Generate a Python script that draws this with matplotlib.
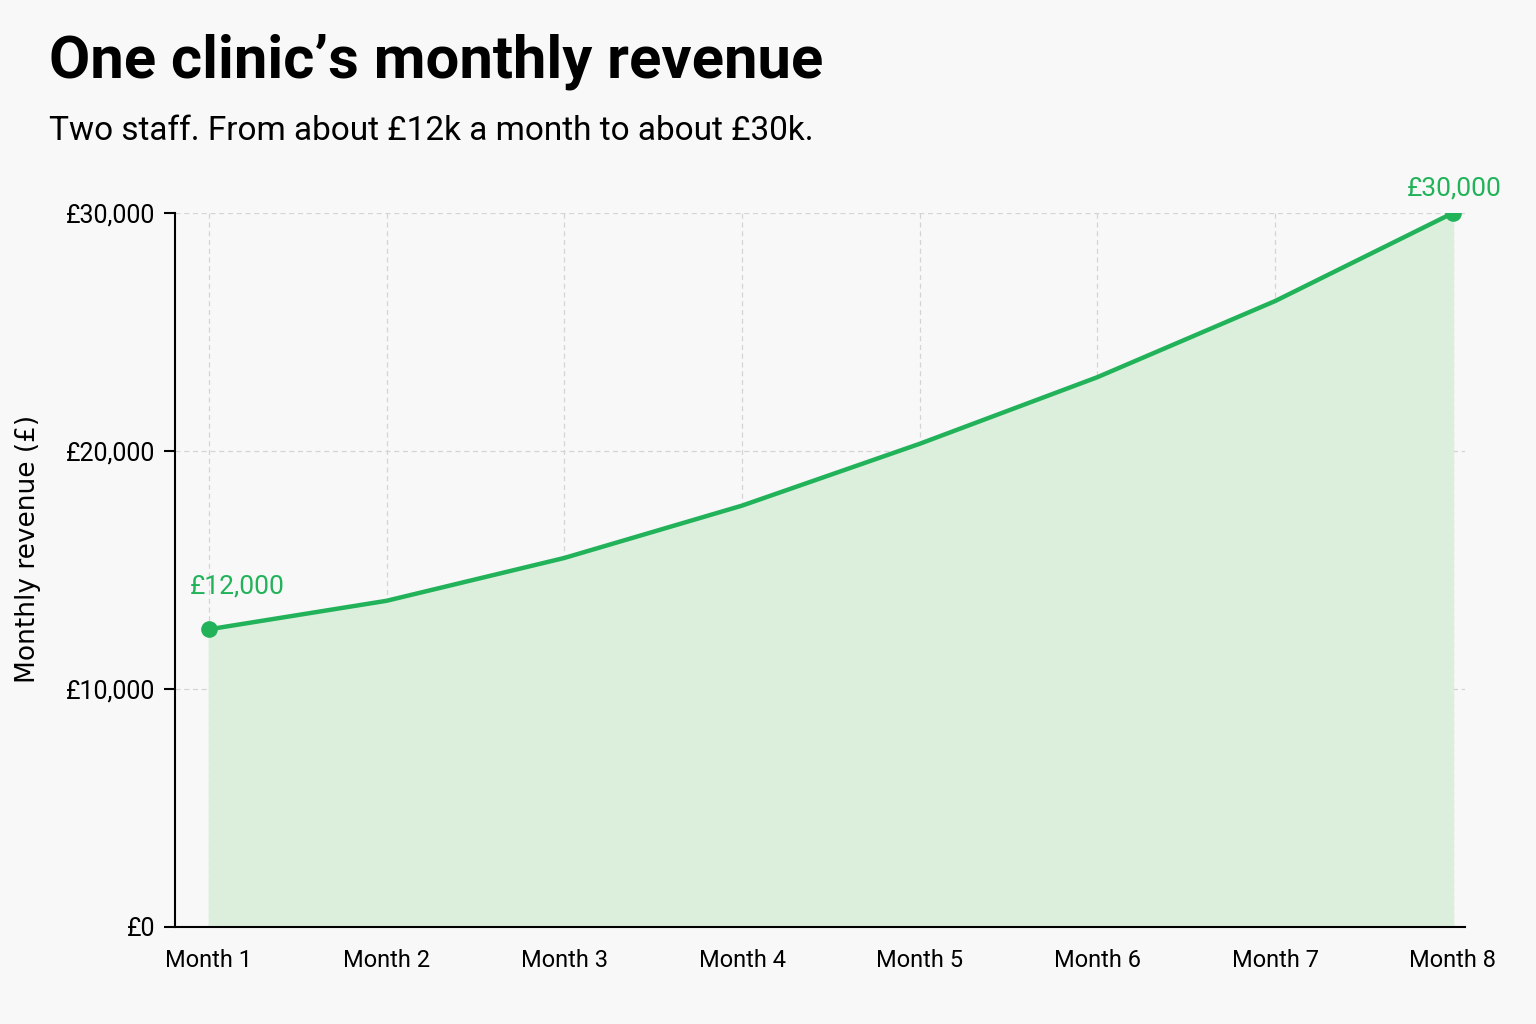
import matplotlib
matplotlib.use("Agg")
import matplotlib.pyplot as plt
from matplotlib.ticker import FuncFormatter
from matplotlib import font_manager

months = ["Month 1", "Month 2", "Month 3", "Month 4", "Month 5", "Month 6", "Month 7", "Month 8"]
revenue = [12500, 13700, 15500, 17700, 20300, 23100, 26300, 30000]
first_label = "£12,000"
last_label = "£30,000"
y_ticks = [0, 10000, 20000, 30000]

names = {f.name for f in font_manager.fontManager.ttflist}
narrow = "Liberation Sans Narrow" if "Liberation Sans Narrow" in names else "Roboto"

green = "#22b35a"
fill_green = "#dcefdc"
bg = "#f8f8f8"

fig = plt.figure(figsize=(15.36, 10.24), dpi=100, facecolor=bg)
ax = fig.add_axes([0.114, 0.095, 0.840, 0.697])
ax.set_facecolor(bg)

x = list(range(1, len(months) + 1))
ax.fill_between(x, revenue, 0, color=fill_green, zorder=1)
ax.plot(x, revenue, color=green, linewidth=3.2, zorder=3)
ax.plot([x[0], x[-1]], [revenue[0], revenue[-1]], "o", color=green, markersize=11, zorder=4)

ax.annotate(first_label, (x[0], revenue[0]), xytext=(-14, 22), textcoords="offset points",
            ha="left", va="bottom", color=green, fontsize=19, family=narrow)
ax.annotate(last_label, (x[-1], revenue[-1]), xytext=(1, 9), textcoords="offset points",
            ha="center", va="bottom", color=green, fontsize=19, family=narrow)

ax.set_xlim(0.81, 8.07)
ax.set_ylim(0, 30000)
ax.set_xticks(x)
ax.set_xticklabels(months, family=narrow, fontsize=17)
ax.set_yticks(y_ticks)
ax.yaxis.set_major_formatter(FuncFormatter(lambda v, p: "£{:,.0f}".format(v)))
for lab in ax.get_yticklabels():
    lab.set_family(narrow)
    lab.set_fontsize(18)
ax.tick_params(axis="x", length=0, pad=16)
ax.tick_params(axis="y", length=8, width=1.5, pad=6)

ax.grid(True, color="#d4d4d4", linestyle=(0, (4, 3)), linewidth=0.9, zorder=0)
ax.set_axisbelow(True)
for s in ["top", "right"]:
    ax.spines[s].set_visible(False)
ax.spines["left"].set_linewidth(1.5)
ax.spines["bottom"].set_linewidth(1.5)

ax.set_ylabel("Monthly revenue (£)", fontsize=19, family="DejaVu Sans")
ax.yaxis.set_label_coords(-0.104, 0.53)

fig.text(0.032, 0.94, "One clinic’s monthly revenue", fontsize=43, fontweight="bold",
         family=narrow, va="center", ha="left")
fig.text(0.032, 0.872, "Two staff. From about £12k a month to about £30k.", fontsize=24,
         family=narrow, va="center", ha="left")

plt.savefig("out.png", dpi=100, facecolor=bg)
